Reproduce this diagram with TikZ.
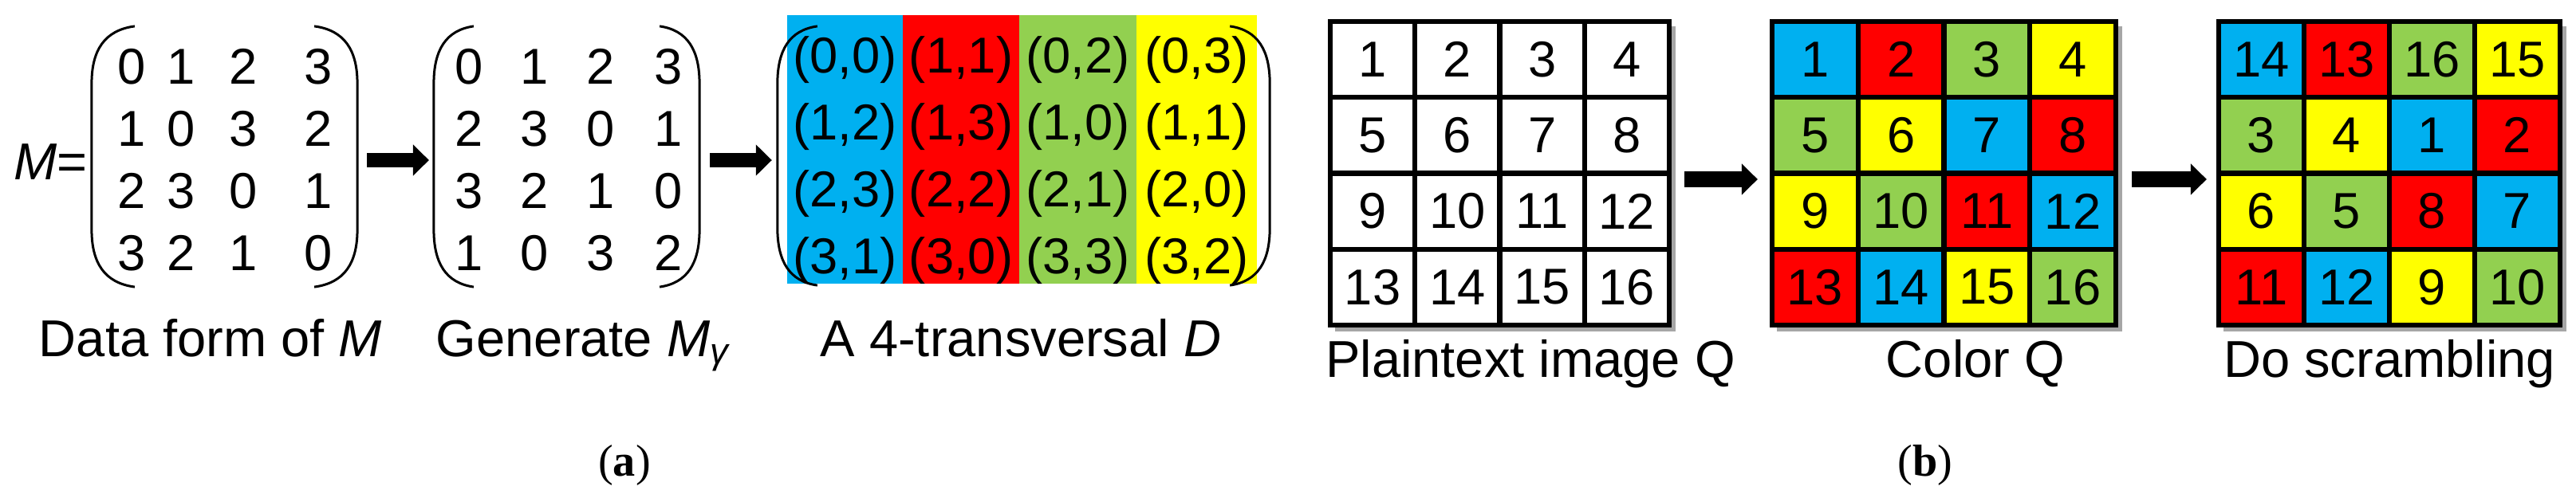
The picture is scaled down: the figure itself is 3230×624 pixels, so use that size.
\documentclass[tikz,border=0pt]{standalone}
\usepackage{fontspec}
\setmainfont{Liberation Sans}
\newfontfamily\capfont{Liberation Serif}
\usetikzlibrary{arrows.meta,calc}
\definecolor{cblue}{HTML}{00B0F0}
\definecolor{cred}{HTML}{FF0000}
\definecolor{cgreen}{HTML}{92D050}
\definecolor{cyellow}{HTML}{FFFF00}
\newcommand\bigparens[2]{%
  \draw[paren] ($(#1.north west)+(#2,0)$) .. controls ($(#1.north west)+(0.3*#2,5)$) and ($(#1.north west)+(0,30)$) .. ($(#1.north west)+(0,72)$)
    -- ($(#1.south west)+(0,-72)$) .. controls ($(#1.south west)+(0,-30)$) and ($(#1.south west)+(0.3*#2,-5)$) .. ($(#1.south west)+(#2,0)$);
  \draw[paren] ($(#1.north east)+(-#2,0)$) .. controls ($(#1.north east)+(-0.3*#2,5)$) and ($(#1.north east)+(0,30)$) .. ($(#1.north east)+(0,72)$)
    -- ($(#1.south east)+(0,-72)$) .. controls ($(#1.south east)+(0,-30)$) and ($(#1.south east)+(-0.3*#2,-5)$) .. ($(#1.south east)+(-#2,0)$);
}
\begin{document}
\begin{tikzpicture}[x=0.01cm,y=-0.01cm,
  ent/.style={inner sep=0pt, anchor=base, font=\fontsize{18}{22}\selectfont},
  lbl/.style={inner sep=0pt, anchor=base, font=\fontsize{18.5}{22}\selectfont},
  capl/.style={inner sep=0pt, anchor=base, font=\capfont\fontsize{16}{18}\selectfont},
  paren/.style={line width=0.03cm},
  box/.style={inner sep=0pt, outer sep=0pt, draw=none},
  bigarrow/.style={line width=0.18cm, -{Triangle[width=0.38cm,length=0.2cm]}},
  bigarrowb/.style={line width=0.2cm, -{Triangle[width=0.38cm,length=0.2cm]}},
  cell/.style={inner sep=0pt, outer sep=0pt, minimum width=#1, minimum height=0.9525cm, font=\fontsize{18}{22}\selectfont},
  gridline/.style={line width=0.06cm},
  shadowline/.style={line width=0.05cm, black!35}
]
\useasboundingbox (0,0) rectangle (3230,624);

% ---------------- panel (a) ----------------
\node[lbl, anchor=base east] (meq) at (110,225) {\textit{M}=};

\node[box, minimum width=3.33cm, minimum height=3.27cm] (m1) at (281.5,196.5) {};
\node[box, minimum width=3.33cm, minimum height=3.27cm] (m2) at (710.5,196.5) {};
\node[box, minimum width=6.17cm, minimum height=3.25cm] (dm) at (1283.5,195.5) {};

\bigparens{m1}{54}
\bigparens{m2}{50}

\foreach \row [count=\r from 0] in {{0,1,2,3},{1,0,3,2},{2,3,0,1},{3,2,1,0}}{
  \foreach \v [count=\c from 0] in \row {
    \pgfmathsetmacro\xx{{165,227,305,399}[\c]}
    \pgfmathsetmacro\yy{{105,183,261,339}[\r]}
    \node[ent] (m1-\r-\c) at (\xx,\yy) {\v};
  }
}
\foreach \row [count=\r from 0] in {{0,1,2,3},{2,3,0,1},{3,2,1,0},{1,0,3,2}}{
  \foreach \v [count=\c from 0] in \row {
    \pgfmathsetmacro\xx{{588,670,753,838}[\c]}
    \pgfmathsetmacro\yy{{105,183,261,339}[\r]}
    \node[ent] (m2-\r-\c) at (\xx,\yy) {\v};
  }
}

% coloured columns of D
\fill[cblue]   (987,19) rectangle (1132,356);
\fill[cred]    (1132,19) rectangle (1278,356);
\fill[cgreen]  (1278,19) rectangle (1425,356);
\fill[cyellow] (1425,19) rectangle (1576,356);
\bigparens{dm}{50}

\foreach \row [count=\r from 0] in {{0/0,1/1,0/2,0/3},{1/2,1/3,1/0,1/1},{2/3,2/2,2/1,2/0},{3/1,3/0,3/3,3/2}}{
  \foreach \a/\b [count=\c from 0] in \row {
    \pgfmathsetmacro\xx{{1059.5,1205,1351.5,1500.5}[\c]}
    \pgfmathsetmacro\yy{{91,175,259,343}[\r]}
    \node[ent] (d-\r-\c) at (\xx,\yy) {(\a,\b)};
  }
}

\coordinate (ya) at (0,201);
\draw[bigarrow, shorten <=0.12cm, shorten >=0.06cm] (m1.east |- ya) -- (m2.west |- ya);
\draw[bigarrow, shorten <=0.13cm, shorten >=0.07cm] (m2.east |- ya) -- (dm.west |- ya);

\node[lbl] (la1) at (264,447) {Data form of \textit{M}};
\node[lbl] (la2) at (732,447) {Generate \textit{M}\textsubscript{\textit{γ}}};
\node[lbl] (la3) at (1280,447) {A 4-transversal \textit{D}};
\node[capl] (capa) at (783,597) {(\textbf{a})};

% ---------------- panel (b) ----------------
\node[box, minimum width=4.25cm, minimum height=3.81cm] (g1) at (1880.5,217.5) {};
\node[box, minimum width=4.31cm, minimum height=3.81cm] (g2) at (2437.5,217.5) {};
\node[box, minimum width=4.28cm, minimum height=3.81cm] (g3) at (2996,217.5) {};

\foreach \g in {g1,g2,g3}{
  \draw[shadowline] ($(\g.north east)+(5,6)$) -- ($(\g.south east)+(5,5)$) -- ($(\g.south west)+(6,5)$);
}

\foreach \n [count=\i from 0] in {1,...,16}{
  \pgfmathtruncatemacro\r{floor(\i/4)}
  \pgfmathtruncatemacro\c{mod(\i,4)}
  \node[cell=1.0625cm, fill=white] (g1-\n) at ({1668+106.25*(\c+0.5)},{27+95.25*(\r+0.5)}) {\n};
}
\foreach \n/\col [count=\i from 0] in {1/cblue,2/cred,3/cgreen,4/cyellow,5/cgreen,6/cyellow,7/cblue,8/cred,9/cyellow,10/cgreen,11/cred,12/cblue,13/cred,14/cblue,15/cyellow,16/cgreen}{
  \pgfmathtruncatemacro\r{floor(\i/4)}
  \pgfmathtruncatemacro\c{mod(\i,4)}
  \node[cell=1.0775cm, fill=\col] (g2-\n) at ({2222+107.75*(\c+0.5)},{27+95.25*(\r+0.5)}) {\n};
}
\foreach \n/\col [count=\i from 0] in {14/cblue,13/cred,16/cgreen,15/cyellow,3/cgreen,4/cyellow,1/cblue,2/cred,6/cyellow,5/cgreen,8/cred,7/cblue,11/cred,12/cblue,9/cyellow,10/cgreen}{
  \pgfmathtruncatemacro\r{floor(\i/4)}
  \pgfmathtruncatemacro\c{mod(\i,4)}
  \node[cell=1.07cm, fill=\col] (g3-\n) at ({2782+107*(\c+0.5)},{27+95.25*(\r+0.5)}) {\n};
}
\foreach \g in {g1,g2,g3}{
  \foreach \n in {1,...,16}{
    \draw[gridline] (\g-\n.north west) rectangle (\g-\n.south east);
  }
  \draw[gridline] (\g.north west) rectangle (\g.south east);
}

\coordinate (yb) at (0,225);
\draw[bigarrowb, shorten <=0.19cm, shorten >=0.18cm] (g1.east |- yb) -- (g2.west |- yb);
\draw[bigarrowb, shorten <=0.20cm, shorten >=0.15cm] (g2.east |- yb) -- (g3.west |- yb);

\node[lbl] (lb1) at (1919,473) {Plaintext image Q};
\node[lbl] (lb2) at (2477,473) {Color Q};
\node[lbl] (lb3) at (2996,473) {Do scrambling};
\node[capl] (capb) at (2414,597) {(\textbf{b})};
\end{tikzpicture}
\end{document}
